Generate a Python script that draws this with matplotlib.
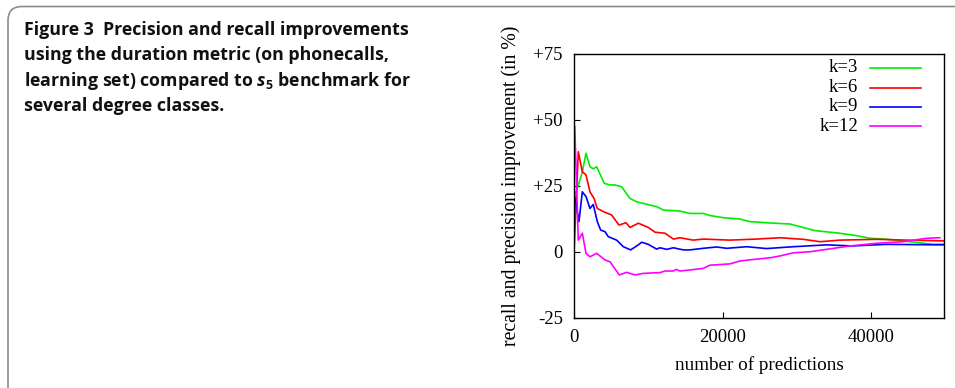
import matplotlib
matplotlib.use('Agg')
import matplotlib.pyplot as plt
from matplotlib.patches import FancyBboxPatch

# k=3
x_k3 = [200, 1100, 1616, 2150, 2600, 3050, 4080, 4850, 5500, 6420, 7540, 8440, 10230, 11130,
        12030, 14270, 15620, 17410, 18310, 20100, 22350, 23700, 26390, 29080, 32450, 35820,
        38070, 39860, 41880, 45250, 48390, 49830]
y_k3 = [22, 30, 37.4, 32.3, 31.5, 32.3, 26, 25.4, 25.4, 24.7, 20.3, 19, 17.8, 17.2,
        15.9, 15.5, 14.6, 14.6, 13.8, 13, 12.5, 11.5, 11, 10.6, 8.1, 7.1,
        6.2, 5.2, 4.9, 3.9, 2.9, 3.0]
# k=6
x_k6 = [0, 580, 1120, 1616, 2150, 2690, 3140, 3950, 5070, 6060, 7000, 7540, 8660, 10010,
        10910, 12260, 13380, 14270, 16060, 17410, 21000, 24590, 27740, 30880, 33130, 35820,
        40760, 44800, 49830]
y_k6 = [0, 38, 30.4, 29.2, 22.8, 20.3, 16.5, 15.3, 14, 10.2, 11.1, 9.3, 10.9, 9.3,
        7.5, 7.1, 4.9, 5.4, 4.5, 4.9, 4.5, 4.9, 5.4, 4.8, 3.9, 4.5,
        4.8, 4.5, 4.2]
# k=9
x_k9 = [100, 670, 1120, 1616, 2150, 2600, 3140, 3590, 4170, 4620, 5740, 6640, 7630, 8660,
        9110, 10010, 11130, 11580, 12480, 13380, 14720, 15620, 17410, 19210, 20560, 23250,
        25940, 29530, 34010, 37590, 42080, 49830]
y_k9 = [21, 11.5, 22.8, 21, 16.5, 18, 11.5, 8.3, 7.7, 5.8, 4.5, 2, 0.8, 2.7,
        3.7, 2.9, 1.1, 1.6, 1, 1.6, 0.8, 0.8, 1.4, 1.9, 1.4, 2,
        1.3, 2, 2.7, 2.3, 2.9, 2.7]
# k=12
x_k12 = [100, 580, 1120, 1616, 2150, 3050, 4170, 4850, 6100, 7090, 8210, 9330, 11580, 12260,
         13380, 13740, 14270, 15620, 17410, 18310, 21000, 22350, 24590, 26390, 27740, 29530,
         31780, 34010, 37160, 40760, 44340, 47480, 49260]
y_k12 = [47.5, 4.5, 7.1, -0.5, -1.8, -0.5, -3, -3.7, -8.7, -7.7, -8.7, -8.1, -7.8, -7.2,
         -7.2, -6.6, -7.2, -6.8, -6.2, -5, -4.5, -3.4, -2.7, -2.2, -1.5, -0.3,
         0.1, 1, 2.3, 3.3, 3.9, 5.2, 5.4]

labels = ['k=3', 'k=6', 'k=9', 'k=12']
colors = ['#00ee00', '#ff0000', '#0000ff', '#ff00ff']
series = [(x_k3, y_k3), (x_k6, y_k6), (x_k9, y_k9), (x_k12, y_k12)]

xticks = [0, 20000, 40000]
yticks = [-25, 0, 25, 50, 75]
ytick_labels = ['-25', '0', '+25', '+50', '+75']

caption = ['Figure 3  Precision and recall improvements',
           'using the duration metric (on phonecalls,',
           r'learning set) compared to $s_5$ benchmark for',
           'several degree classes.']

plt.rcParams['mathtext.fontset'] = 'custom'
plt.rcParams['mathtext.it'] = 'Open Sans:italic:bold'
plt.rcParams['mathtext.rm'] = 'Open Sans:bold'

fig = plt.figure(figsize=(9.55, 3.88), dpi=100)

# rounded frame around the figure panel
frame = FancyBboxPatch((8, -30), 1000, 411.5, boxstyle='round,pad=0,rounding_size=14',
                       transform=None, fill=False, edgecolor='#8c8c8c', linewidth=1.2)
fig.add_artist(frame)

# caption
for i, line in enumerate(caption):
    fig.text(24 / 955, 1 - (35 + 25.3 * i) / 388, line, family='Open Sans', weight='bold',
             fontsize=12.8, va='baseline', ha='left', color='#111111')

ax = fig.add_axes([574 / 955, 70 / 388, 370 / 955, 264 / 388])
for (xs, ys), c in zip(series, colors):
    ax.plot(xs, ys, color=c, linewidth=1.2)

ax.set_xlim(0, 49830)
ax.set_ylim(-25, 75)
ax.set_xticks(xticks)
ax.set_xticklabels([str(t) for t in xticks])
ax.set_yticks(yticks)
ax.set_yticklabels(ytick_labels)
ax.tick_params(direction='in', length=4, width=0.8, labelsize=13.5, pad=8,
               top=False, right=False)
for lab in ax.get_xticklabels() + ax.get_yticklabels():
    lab.set_family('Liberation Serif')
for s in ax.spines.values():
    s.set_linewidth(1.0)

ax.set_xlabel('number of predictions', family='Liberation Serif', fontsize=13.8, labelpad=7)
ax.set_ylabel('recall and precision improvement (in %)', family='Liberation Serif',
              fontsize=14.2, labelpad=9)

# gnuplot-style key: right-aligned labels, sample line on the right
key_y = [0.947, 0.873, 0.800, 0.727]
for lab, c, ky in zip(labels, colors, key_y):
    ax.text(0.768, ky, lab, transform=ax.transAxes, ha='right', va='center',
            family='Liberation Serif', fontsize=13.5)
    ax.plot([0.80, 0.938], [ky, ky], transform=ax.transAxes, color=c, linewidth=1.2)

fig.savefig('out.png', dpi=100)
